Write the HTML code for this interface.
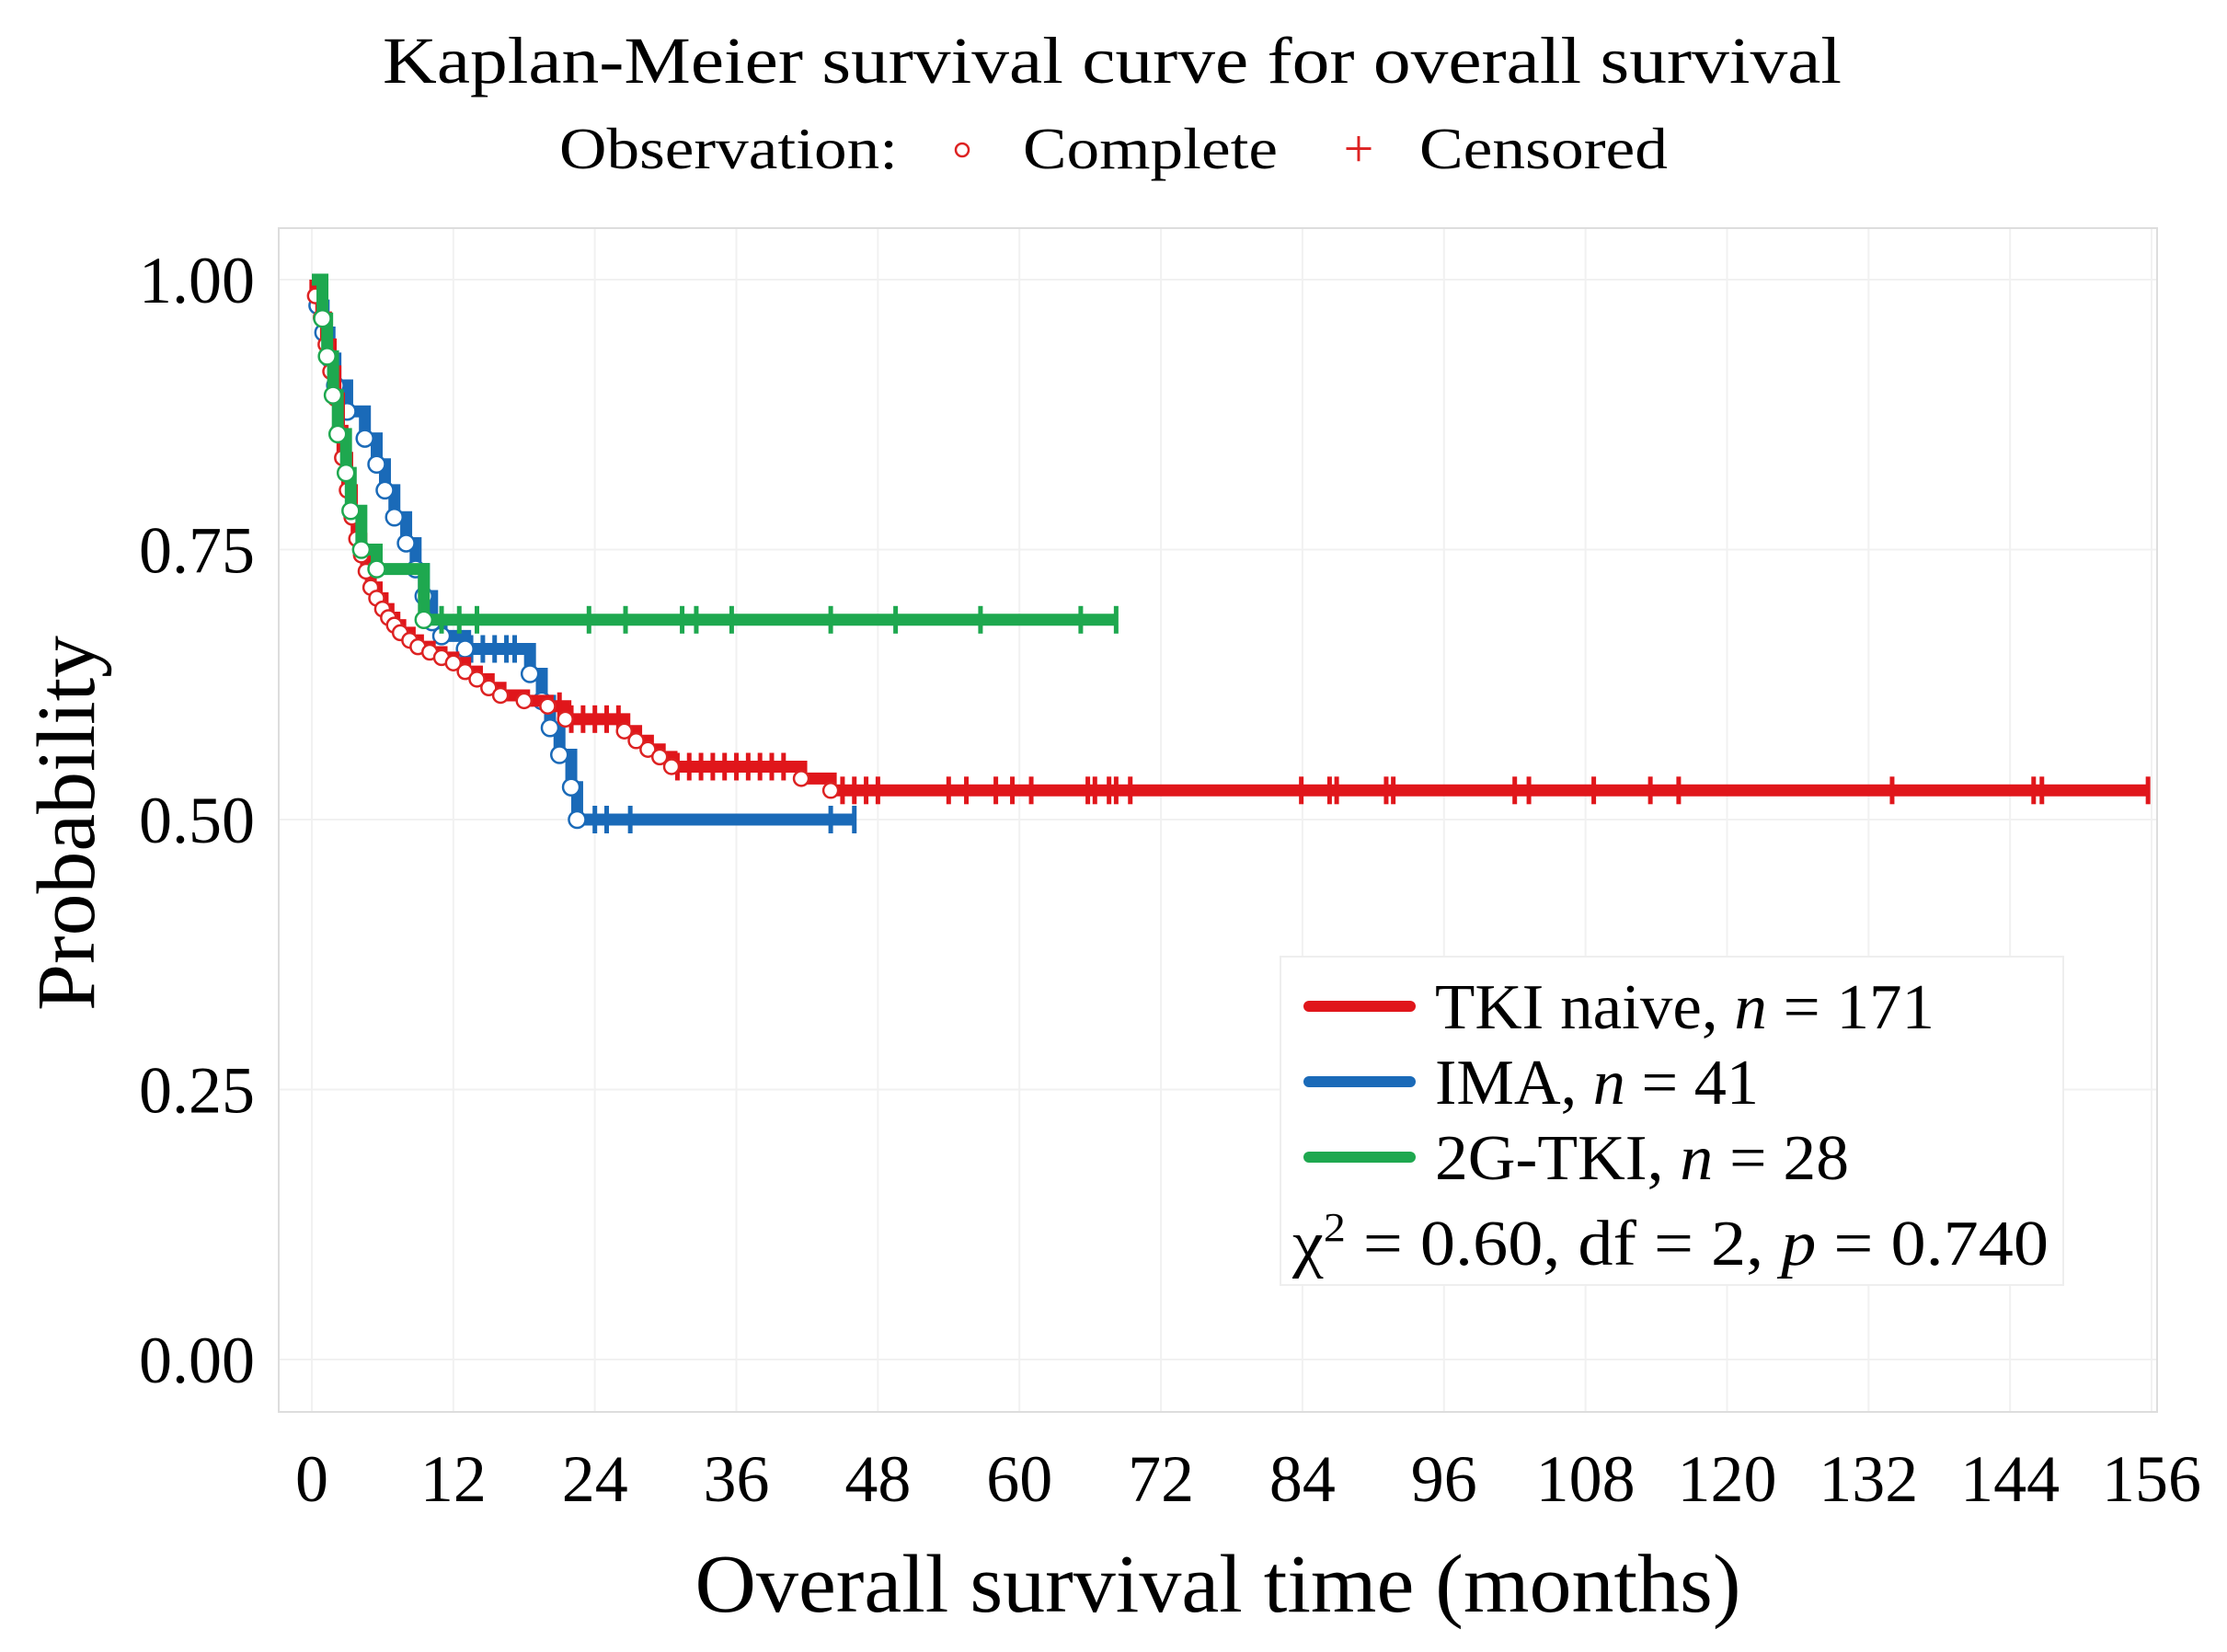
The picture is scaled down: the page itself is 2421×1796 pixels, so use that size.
<!DOCTYPE html>
<html><head><meta charset="utf-8"><style>
html,body{margin:0;padding:0;background:#fff;}
svg{display:block;font-family:"Liberation Serif",serif;}
</style></head><body>
<svg id="chart" width="2421" height="1796" viewBox="0 0 2421 1796" xmlns="http://www.w3.org/2000/svg">
<text x="1209" y="90" font-size="72" text-anchor="middle" textLength="1586" lengthAdjust="spacingAndGlyphs">Kaplan-Meier survival curve for overall survival</text>
<g>
<text x="608" y="183" font-size="64" textLength="368" lengthAdjust="spacingAndGlyphs">Observation:</text>
<circle cx="1046" cy="163" r="7" fill="#fff" stroke="#d22" stroke-width="2.5"/>
<text x="1112" y="183" font-size="64" textLength="277" lengthAdjust="spacingAndGlyphs">Complete</text>
<text x="1477" y="181" font-size="58" fill="#d22" text-anchor="middle">+</text>
<text x="1543" y="183" font-size="64" textLength="270" lengthAdjust="spacingAndGlyphs">Censored</text>
</g>
<g id="grid"></g>
<rect x="303" y="248" width="2042" height="1287" fill="none" stroke="#ddd" stroke-width="2"/>
<g id="axes"></g>
<g id="series"></g>
<text x="1324" y="1752" font-size="90" text-anchor="middle" textLength="1137" lengthAdjust="spacingAndGlyphs">Overall survival time (months)</text>
<text transform="translate(102,895) rotate(-90)" font-size="90" text-anchor="middle" textLength="408" lengthAdjust="spacingAndGlyphs">Probability</text>
<g>
<rect x="1392" y="1040" width="851" height="357" fill="#fff" stroke="#eee" stroke-width="2"/>
<line x1="1423" y1="1094" x2="1533" y2="1094" stroke="#e0161b" stroke-width="12" stroke-linecap="round"/>
<line x1="1423" y1="1176" x2="1533" y2="1176" stroke="#1a6ab8" stroke-width="12" stroke-linecap="round"/>
<line x1="1423" y1="1258" x2="1533" y2="1258" stroke="#1ea84f" stroke-width="12" stroke-linecap="round"/>
<text x="1560" y="1118" font-size="70" textLength="543" lengthAdjust="spacingAndGlyphs">TKI naive, <tspan font-style="italic">n</tspan> = 171</text>
<text x="1560" y="1200" font-size="70" textLength="352" lengthAdjust="spacingAndGlyphs">IMA, <tspan font-style="italic">n</tspan> = 41</text>
<text x="1560" y="1282" font-size="70" textLength="450" lengthAdjust="spacingAndGlyphs">2G-TKI, <tspan font-style="italic">n</tspan> = 28</text>
<text x="1405" y="1375" font-size="70" textLength="822" lengthAdjust="spacingAndGlyphs">χ<tspan dy="-26" font-size="44">2</tspan><tspan dy="26"> = 0.60,  df = 2,  </tspan><tspan font-style="italic">p</tspan> = 0.740</text>
</g>
</svg>
<script>
const xTicks=[0,12,24,36,48,60,72,84,96,108,120,132,144,156];
const yTicks=[0,0.25,0.5,0.75,1.0];
const yTickLabels=["0.00","0.25","0.50","0.75","1.00"];
// TKI naive
const redTimes=[0.3,0.8,1.2,1.6,2.0,2.3,2.6,3.0,3.4,3.8,4.2,4.6,5.0,5.5,6.0,6.5,7.0,7.5,8.3,9.0,10,11,12,13,14,15,16,18,20,21.5,26.5,27.5,28.5,29.5,30.5,41.5,44];
const redSurv=[0.985,0.965,0.94,0.915,0.89,0.86,0.835,0.805,0.78,0.76,0.745,0.73,0.715,0.705,0.695,0.687,0.68,0.673,0.666,0.66,0.655,0.65,0.645,0.637,0.63,0.622,0.615,0.61,0.605,0.593,0.582,0.573,0.565,0.558,0.549,0.538,0.527];
const redCensor=[21,22,23,24,25,26,31,32,33,34,35,36,37,38,39,40,45,46,47,48,54,55.5,58,59.4,61,65.8,66.4,67.6,68.2,69.4,83.9,86.3,86.9,91.1,91.7,102,103.2,108.7,113.5,115.9,134,146,146.7,155.7];
// IMA
const blueTimes=[0.5,1.0,1.5,2.0,3.0,4.5,5.5,6.2,7.0,8.0,8.8,9.5,10.2,11.0,13.0,18.5,19.5,20.2,21.0,22.0,22.5];
const blueSurv=[0.976,0.951,0.927,0.902,0.878,0.853,0.829,0.805,0.780,0.756,0.732,0.707,0.683,0.67,0.658,0.635,0.61,0.585,0.56,0.53,0.5];
const blueCensor=[13.5,14.5,15.5,16.5,17.2,24,25,27,44,46];
// 2G-TKI
const greenTimes=[0.9,1.3,1.8,2.2,2.9,3.3,4.2,5.5,9.5];
const greenSurv=[0.964,0.929,0.893,0.857,0.821,0.786,0.75,0.732,0.685];
const greenCensor=[11,12.5,14,23.5,26.6,31.4,32.6,35.6,44,49.5,56.7,65.2,68.2];

const NS="http://www.w3.org/2000/svg";
const X=t=>339+t*(2339-339)/156;
const Y=p=>1478-p*(1478-304);
function mk(tag,attrs,parent){const e=document.createElementNS(NS,tag);for(const k in attrs)e.setAttribute(k,attrs[k]);parent.appendChild(e);return e;}
const grid=document.getElementById('grid'),axes=document.getElementById('axes'),series=document.getElementById('series');
xTicks.forEach(t=>{
  const l=mk('line',{x1:X(t),x2:X(t),y1:248,y2:1535,stroke:'#f1f1f1','stroke-width':2},grid);
  
  
  const tx=mk('text',{x:X(t),y:1632,'font-size':72,'text-anchor':'middle'},axes);
  tx.textContent=String(t);
  
  
});
yTicks.forEach((v,i)=>{
  const l=mk('line',{x1:303,x2:2345,y1:Y(v),y2:Y(v),stroke:'#f1f1f1','stroke-width':2},grid);
  
  
  const tx=mk('text',{x:277,y:Y(v)+25,'font-size':72,'text-anchor':'end'},axes);
  tx.textContent=yTickLabels[i];
  
  
});
function survAt(times,surv,t){let s=1;for(let i=0;i<times.length;i++){if(times[i]<=t)s=surv[i];}return s;}
function drawKM(name,color,times,surv,censor,circR,circStroke){
  const g=mk('g',{},series);
  
  
  const end=Math.max(times[times.length-1],censor.length?censor[censor.length-1]:0);
  let d='M'+X(0)+' '+Y(1);
  times.forEach((t,i)=>{d+=' H'+X(t)+' V'+Y(surv[i]);});
  d+=' H'+X(end);
  mk('path',{d:d,fill:'none',stroke:color,'stroke-width':13,'stroke-linejoin':'miter'},g);
  censor.forEach(t=>{
    const v=survAt(times,surv,t);
    const c=mk('line',{x1:X(t),x2:X(t),y1:Y(v)-15,y2:Y(v)+15,stroke:color,'stroke-width':5},g);
    
    
  });
  times.forEach((t,i)=>{
    const c=mk('circle',{cx:X(t),cy:Y(surv[i]),r:circR,fill:'#fff',stroke:circStroke,'stroke-width':2.5},g);
    
    
  });
}
drawKM('ima','#1a6ab8',blueTimes,blueSurv,blueCensor,9,'#1a6ab8');
drawKM('tki-naive','#e0161b',redTimes,redSurv,redCensor,8,'#d22');
drawKM('2g-tki','#1ea84f',greenTimes,greenSurv,greenCensor,9,'#1ea84f');
</script>
</body></html>
